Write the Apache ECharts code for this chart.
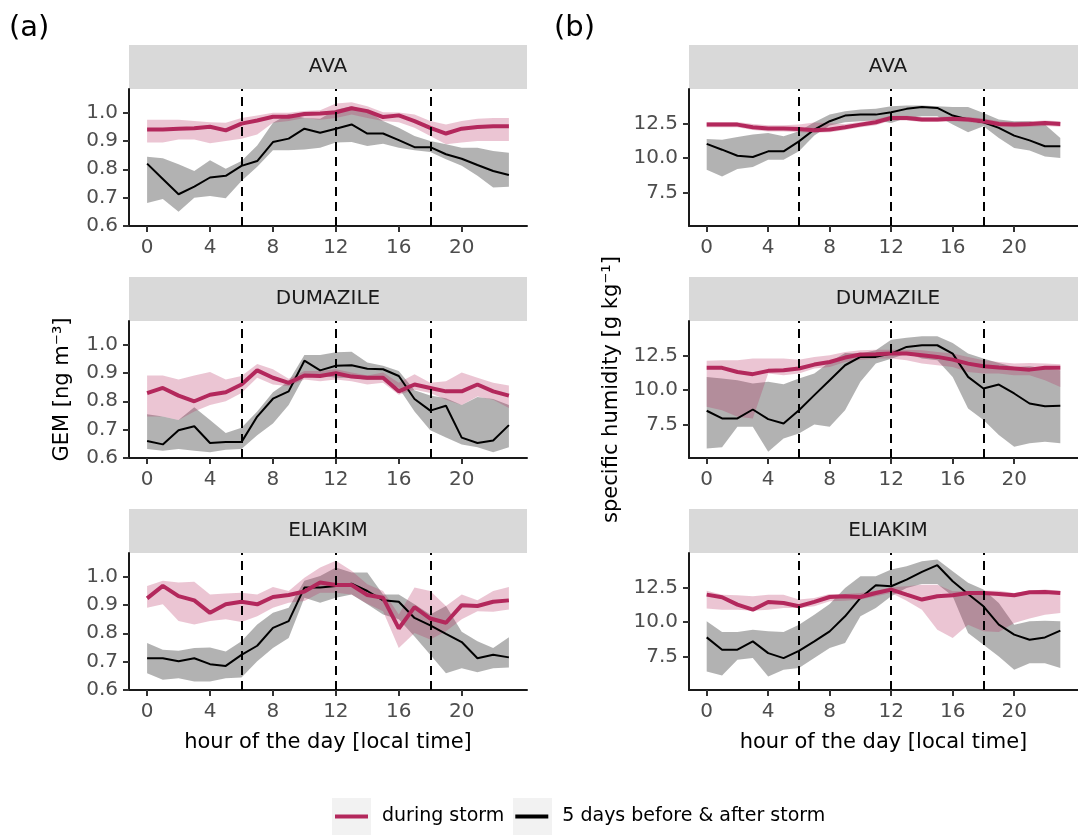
<!DOCTYPE html>
<html><head><meta charset="utf-8">
<script src="https://cdn.jsdelivr.net/npm/echarts@6/dist/echarts.min.js"></script>
<style>html,body{margin:0;padding:0;background:#fff}#c{width:1078px;height:836px}</style>
</head><body><div id="c"></div>
<script>
// ---------- data ----------
const hours = [0,1,2,3,4,5,6,7,8,9,10,11,12,13,14,15,16,17,18,19,20,21,22,23];
const xTicks = [0,4,8,12,16,20];
const gemTicks = [0.6,0.7,0.8,0.9,1.0];
const shTicks = [7.5,10.0,12.5];
const stormMarks = [6,12,18];
const stations = ['AVA','DUMAZILE','ELIAKIM'];
const seriesNames = ['during storm','5 days before & after storm'];

// GEM [ng m-3]
const gemAvaBefore   = [0.82,0.766,0.712,0.739,0.771,0.777,0.812,0.829,0.896,0.908,0.943,0.929,0.943,0.958,0.926,0.926,0.903,0.878,0.878,0.853,0.837,0.815,0.794,0.78];
const gemAvaBeforeLo = [0.681,0.695,0.65,0.7,0.706,0.698,0.759,0.809,0.867,0.867,0.87,0.876,0.894,0.896,0.882,0.89,0.876,0.867,0.861,0.835,0.812,0.777,0.736,0.738];
const gemAvaBeforeHi = [0.844,0.839,0.818,0.794,0.832,0.802,0.829,0.884,0.964,0.995,0.981,0.978,1.01,1.022,1.005,0.97,0.946,0.917,0.9,0.888,0.876,0.876,0.864,0.858];
const gemAvaStorm    = [0.94,0.94,0.943,0.945,0.95,0.937,0.961,0.972,0.985,0.985,0.995,0.997,1.001,1.015,1.005,0.984,0.99,0.97,0.946,0.926,0.943,0.949,0.952,0.952];
const gemAvaStormLo  = [0.894,0.894,0.905,0.905,0.892,0.9,0.908,0.923,0.964,0.97,0.981,0.975,0.981,0.993,0.981,0.97,0.966,0.946,0.917,0.888,0.894,0.9,0.9,0.9];
const gemAvaStormHi  = [0.975,0.975,0.975,0.97,0.966,0.964,0.981,0.99,0.999,0.999,1.005,1.008,1.032,1.036,1.022,1.001,1.0,0.993,0.97,0.958,0.97,0.978,0.981,0.981];

const gemDumBefore   = [0.66,0.648,0.698,0.712,0.653,0.656,0.656,0.746,0.809,0.835,0.943,0.909,0.925,0.927,0.915,0.913,0.889,0.808,0.767,0.784,0.672,0.653,0.662,0.716];
const gemDumBeforeLo = [0.632,0.626,0.632,0.626,0.62,0.629,0.632,0.68,0.722,0.787,0.889,0.891,0.883,0.883,0.875,0.877,0.847,0.764,0.698,0.672,0.648,0.638,0.62,0.638];
const gemDumBeforeHi = [0.754,0.746,0.734,0.779,0.734,0.688,0.707,0.764,0.832,0.871,0.963,0.963,0.973,0.975,0.937,0.925,0.907,0.839,0.82,0.811,0.787,0.815,0.808,0.787];
const gemDumStorm    = [0.829,0.847,0.82,0.8,0.823,0.832,0.859,0.909,0.883,0.865,0.891,0.889,0.899,0.887,0.883,0.883,0.835,0.859,0.847,0.835,0.835,0.859,0.835,0.82];
const gemDumStormLo  = [0.746,0.746,0.734,0.764,0.787,0.8,0.829,0.883,0.859,0.853,0.877,0.871,0.877,0.871,0.859,0.865,0.823,0.841,0.829,0.805,0.787,0.817,0.805,0.776];
const gemDumStormHi  = [0.891,0.891,0.877,0.891,0.903,0.877,0.889,0.931,0.913,0.879,0.907,0.907,0.913,0.901,0.891,0.901,0.865,0.895,0.865,0.871,0.901,0.883,0.865,0.856];

const gemEliBefore   = [0.712,0.712,0.701,0.712,0.691,0.685,0.724,0.756,0.819,0.843,0.961,0.961,0.967,0.975,0.949,0.916,0.911,0.854,0.828,0.798,0.769,0.712,0.724,0.715];
const gemEliBeforeLo = [0.659,0.636,0.641,0.63,0.63,0.641,0.644,0.701,0.748,0.783,0.925,0.908,0.925,0.937,0.902,0.866,0.849,0.789,0.724,0.659,0.677,0.663,0.677,0.679];
const gemEliBeforeHi = [0.766,0.742,0.738,0.748,0.75,0.736,0.772,0.831,0.872,0.89,0.985,1.002,1.032,1.014,1.014,0.937,0.937,0.902,0.866,0.896,0.805,0.772,0.748,0.786];
const gemEliStorm    = [0.923,0.967,0.931,0.916,0.872,0.902,0.911,0.902,0.928,0.935,0.947,0.979,0.97,0.97,0.935,0.925,0.817,0.892,0.852,0.837,0.899,0.896,0.911,0.916];
const gemEliStormLo  = [0.89,0.902,0.843,0.831,0.843,0.849,0.84,0.86,0.89,0.908,0.914,0.943,0.943,0.937,0.904,0.878,0.748,0.801,0.778,0.807,0.849,0.878,0.876,0.884];
const gemEliStormHi  = [0.967,0.985,0.979,0.982,0.937,0.94,0.943,0.937,0.963,0.949,0.996,1.032,1.056,1.02,0.973,0.949,0.866,0.961,0.949,0.896,0.937,0.916,0.949,0.963];

// specific humidity [g kg-1]
const shAvaBefore   = [11.04,10.62,10.18,10.09,10.5,10.5,11.23,12.09,12.7,13.11,13.18,13.18,13.35,13.6,13.74,13.67,13.11,12.82,12.62,12.21,11.65,11.3,10.87,10.87];
const shAvaBeforeLo = [9.16,8.67,9.21,9.35,9.89,9.89,10.5,11.65,12.38,12.62,12.7,12.77,12.57,12.94,13.06,13.06,12.45,11.89,12.33,11.48,10.74,10.57,10.13,10.01];
const shAvaBeforeHi = [11.4,11.35,11.55,11.72,11.84,11.6,11.96,12.62,13.18,13.43,13.55,13.6,13.79,13.84,13.84,13.79,13.74,13.74,13.3,12.82,12.7,12.7,12.45,11.48];
const shAvaStorm    = [12.45,12.45,12.45,12.26,12.16,12.16,12.13,12.04,12.09,12.26,12.45,12.62,12.94,12.94,12.82,12.82,12.87,12.82,12.7,12.5,12.45,12.5,12.57,12.5];
const shAvaStormLo  = [12.25,12.25,12.25,12.05,11.95,11.95,11.9,11.85,11.9,12.05,12.25,12.4,12.75,12.75,12.65,12.65,12.7,12.65,12.5,12.3,12.25,12.3,12.35,12.3];
const shAvaStormHi  = [12.65,12.65,12.65,12.5,12.4,12.4,12.45,12.6,12.55,12.5,12.65,12.85,13.1,13.1,13.0,13.0,13.05,13.0,12.9,12.7,12.65,12.7,12.75,12.7];

const shDumBefore   = [8.5,7.94,7.94,8.59,7.89,7.57,8.54,9.64,10.73,11.82,12.43,12.43,12.67,13.16,13.28,13.28,12.67,10.97,10.12,10.41,9.76,9.03,8.83,8.86];
const shDumBeforeLo = [5.75,5.83,7.33,7.33,5.51,6.48,6.84,7.5,7.33,8.54,10.61,11.94,12.3,12.67,12.31,12.18,10.97,8.66,7.82,6.72,5.87,6.12,6.24,6.12];
const shDumBeforeHi = [10.97,10.85,10.73,10.49,10.61,10.44,10.85,11.21,12.06,12.72,12.67,12.91,13.69,13.83,13.93,13.93,13.45,12.67,12.31,11.99,11.7,11.75,11.58,11.46];
const shDumStorm    = [11.63,11.63,11.33,11.17,11.41,11.46,11.58,11.87,12.06,12.38,12.6,12.62,12.67,12.67,12.55,12.43,12.23,11.94,11.75,11.65,11.58,11.5,11.63,11.63];
const shDumStormLo  = [8.79,8.54,8.06,7.94,11.21,11.09,11.21,11.58,11.7,12.06,12.23,12.31,12.31,12.18,11.94,11.82,11.7,11.33,11.21,11.21,11.09,11.09,10.73,10.24];
const shDumStormHi  = [12.14,12.18,12.18,12.31,12.31,12.31,12.23,12.43,12.55,12.79,12.91,12.96,12.96,12.96,12.91,12.79,12.67,12.43,12.18,12.06,11.94,11.99,11.94,11.89];

const shEliBefore   = [8.89,7.99,7.99,8.6,7.74,7.38,7.91,8.6,9.33,10.43,11.77,12.7,12.62,13.11,13.67,14.16,12.99,12.06,11.16,9.82,9.09,8.72,8.89,9.38];
const shEliBeforeLo = [6.4,6.11,7.26,7.38,6.04,6.52,6.65,7.38,8.11,8.48,10.43,11.04,11.89,12.5,12.79,12.79,11.89,9.21,8.35,7.5,6.52,7.01,7.01,6.65];
const shEliBeforeHi = [10.06,9.28,9.28,9.45,9.33,9.28,9.82,10.55,11.33,12.5,13.35,13.35,13.84,14.09,14.45,14.57,13.72,12.87,12.38,11.4,9.82,10.06,10.11,10.06];
const shEliStorm    = [12.01,11.82,11.28,10.91,11.48,11.4,11.16,11.48,11.84,11.89,11.84,12.13,12.38,12.01,11.65,11.89,11.96,12.13,12.13,12.06,11.96,12.18,12.21,12.13];
const shEliStormLo  = [10.99,10.91,10.91,10.84,10.91,11.04,11.04,11.16,11.52,11.57,11.65,11.89,12.13,11.57,10.91,9.45,8.84,9.82,9.33,9.28,9.94,10.26,10.55,10.67];
const shEliStormHi  = [12.3,12.01,11.96,11.89,12.01,12.01,11.65,11.77,12.06,12.06,12.13,12.3,12.55,12.62,12.74,12.74,12.26,12.26,12.3,12.3,12.13,12.3,12.38,12.3];

// ---------- layout / style ----------
const FONT = 'DejaVu Sans';
const COLX = [129, 689], ROWY = [89, 321, 553], PW = 398, PH = 137, STRIP = 44;
const CRIMSON = '#b3285c';
const YR = [[0.6, 1.083], [5.05, 15.05]];
const YT = [gemTicks, shTicks];
const YNAME = ['GEM [ng m\u207B\u00B3]', 'specific humidity [g kg\u207B\u00B9]'];
const YGAP = [56, 67];

const panels = [
  {c:0,r:0,st:stations[0],b:gemAvaBefore,bl:gemAvaBeforeLo,bh:gemAvaBeforeHi,s:gemAvaStorm,sl:gemAvaStormLo,sh:gemAvaStormHi},
  {c:0,r:1,st:stations[1],b:gemDumBefore,bl:gemDumBeforeLo,bh:gemDumBeforeHi,s:gemDumStorm,sl:gemDumStormLo,sh:gemDumStormHi},
  {c:0,r:2,st:stations[2],b:gemEliBefore,bl:gemEliBeforeLo,bh:gemEliBeforeHi,s:gemEliStorm,sl:gemEliStormLo,sh:gemEliStormHi},
  {c:1,r:0,st:stations[0],b:shAvaBefore,bl:shAvaBeforeLo,bh:shAvaBeforeHi,s:shAvaStorm,sl:shAvaStormLo,sh:shAvaStormHi},
  {c:1,r:1,st:stations[1],b:shDumBefore,bl:shDumBeforeLo,bh:shDumBeforeHi,s:shDumStorm,sl:shDumStormLo,sh:shDumStormHi},
  {c:1,r:2,st:stations[2],b:shEliBefore,bl:shEliBeforeLo,bh:shEliBeforeHi,s:shEliStorm,sl:shEliStormLo,sh:shEliStormHi}
];

function band(i, lo, hi, color) {
  return {
    type: 'custom', xAxisIndex: i, yAxisIndex: i, silent: true,
    data: hours.map((h, k) => [h, lo[k], hi[k]]),
    encode: {x: 0, y: [1, 2]},
    renderItem: function (params, api) {
      if (params.dataIndex !== 0) return null;
      const pts = [];
      for (let k = 0; k < hours.length; k++) pts.push(api.coord([hours[k], hi[k]]));
      for (let k = hours.length - 1; k >= 0; k--) pts.push(api.coord([hours[k], lo[k]]));
      return {type: 'polygon', shape: {points: pts}, style: {fill: color}};
    }
  };
}

const grid = [], xAxis = [], yAxis = [], series = [], graphic = [];
panels.forEach((p, i) => {
  const left = COLX[p.c], top = ROWY[p.r];
  grid.push({left: left, top: top, width: PW, height: PH, containLabel: false});
  xAxis.push({
    gridIndex: i, type: 'value', min: -1.15, max: 24.15,
    axisLine: {show: true, onZero: false, lineStyle: {color: '#1a1a1a', width: 2}},
    axisTick: {show: true, length: 6, customValues: xTicks, lineStyle: {color: '#333', width: 2}},
    axisLabel: {customValues: xTicks, margin: 12, fontSize: 20, fontFamily: FONT, color: '#4d4d4d'},
    splitLine: {show: false},
    name: p.r === 2 ? 'hour of the day [local time]' : '',
    nameLocation: 'middle', nameGap: 42,
    nameTextStyle: {fontSize: 21, fontFamily: FONT, color: '#000'}
  });
  yAxis.push({
    gridIndex: i, type: 'value', min: YR[p.c][0], max: YR[p.c][1],
    axisLine: {show: true, onZero: false, lineStyle: {color: '#1a1a1a', width: 2}},
    axisTick: {show: true, length: 6, customValues: YT[p.c], lineStyle: {color: '#333', width: 2}},
    axisLabel: {customValues: YT[p.c], margin: 11, fontSize: 20, fontFamily: FONT, color: '#4d4d4d',
      formatter: v => Number(v).toFixed(1)},
    splitLine: {show: false},
    name: p.r === 1 ? YNAME[p.c] : '',
    nameLocation: 'middle', nameGap: YGAP[p.c],
    nameTextStyle: {fontSize: 21, fontFamily: FONT, color: '#000'}
  });
  series.push(band(i, p.bl, p.bh, 'rgba(0,0,0,0.3)'));
  series.push(band(i, p.sl, p.sh, 'rgba(181,40,92,0.27)'));
  series.push({
    type: 'line', name: seriesNames[1], xAxisIndex: i, yAxisIndex: i,
    data: hours.map((h, k) => [h, p.b[k]]), showSymbol: false, symbol: 'none', silent: true,
    lineStyle: {color: '#000', width: 2}, itemStyle: {color: '#000'},
    markLine: {silent: true, symbol: 'none', label: {show: false},
      lineStyle: {color: '#000', width: 2, type: [9, 6]},
      data: stormMarks.map(h => ({xAxis: h}))}
  });
  series.push({
    type: 'line', name: seriesNames[0], xAxisIndex: i, yAxisIndex: i,
    data: hours.map((h, k) => [h, p.s[k]]), showSymbol: false, symbol: 'none', silent: true,
    lineStyle: {color: CRIMSON, width: 4}, itemStyle: {color: CRIMSON}
  });
  graphic.push({type: 'rect', shape: {x: left, y: top - STRIP, width: PW, height: STRIP},
    style: {fill: '#d9d9d9'}, silent: true});
  graphic.push({type: 'text', x: left + PW / 2, y: top - STRIP / 2, silent: true,
    style: {text: p.st, align: 'center', verticalAlign: 'middle', font: '20px "' + FONT + '"', fill: '#1a1a1a'}});
});
// legend key backgrounds
graphic.push({type: 'rect', shape: {x: 332, y: 798, width: 39, height: 37}, style: {fill: '#f2f2f2'}, silent: true, z: -1});
graphic.push({type: 'rect', shape: {x: 513, y: 798, width: 39, height: 37}, style: {fill: '#f2f2f2'}, silent: true, z: -1});

const chart = echarts.init(document.getElementById('c'), null, {renderer: 'canvas'});
chart.setOption({
  animation: false,
  backgroundColor: '#fff',
  title: [
    {text: '(a)', left: 9, top: 14, padding: 0, textStyle: {fontSize: 29, fontWeight: 'normal', fontFamily: FONT, color: '#000'}},
    {text: '(b)', left: 554, top: 14, padding: 0, textStyle: {fontSize: 29, fontWeight: 'normal', fontFamily: FONT, color: '#000'}}
  ],
  legend: {
    data: seriesNames, left: 335, top: 807, padding: 0, z: 5,
    icon: 'rect', itemWidth: 33, itemHeight: 4, itemGap: 11,
    selectedMode: false,
    textStyle: {fontSize: 19, fontFamily: FONT, color: '#000', padding: [0, 0, 0, 9]}
  },
  grid: grid, xAxis: xAxis, yAxis: yAxis, series: series, graphic: graphic
});
</script></body></html>
